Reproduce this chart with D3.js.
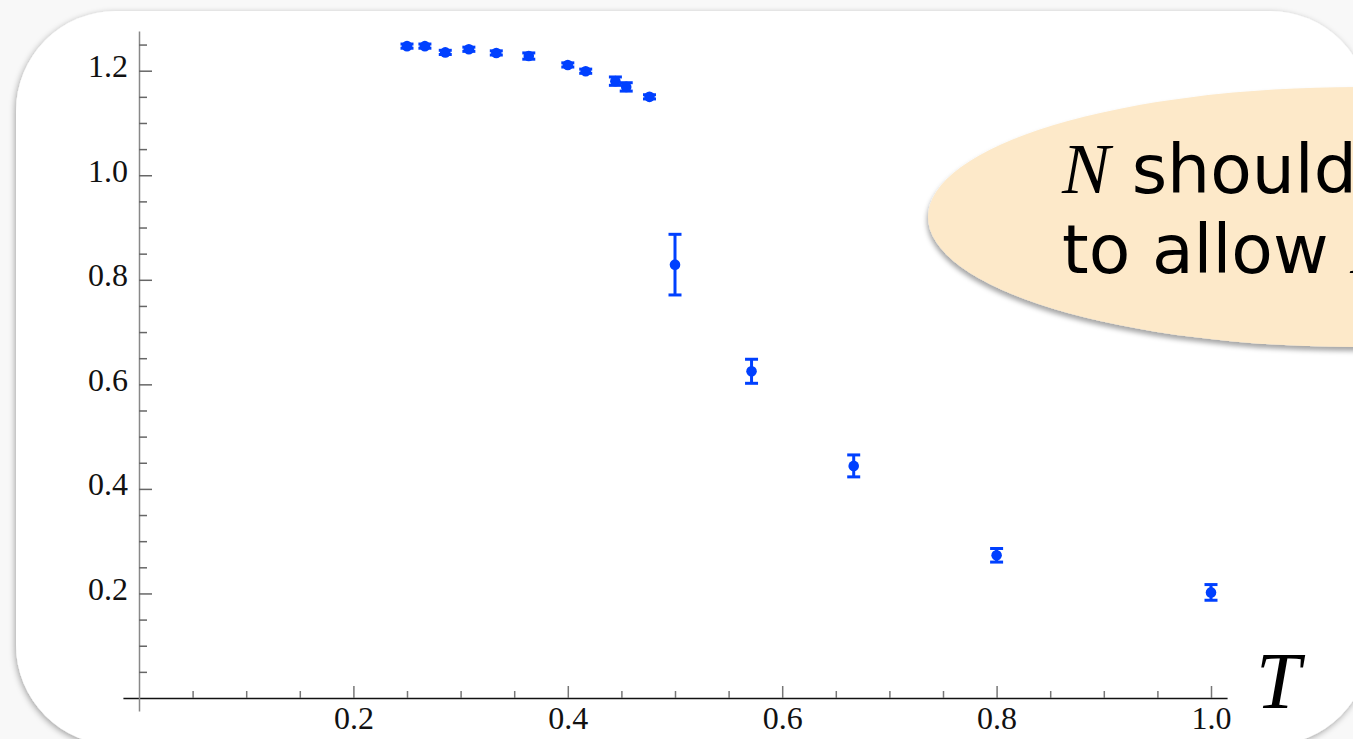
<!DOCTYPE html>
<html>
<head>
<meta charset="utf-8">
<script src="https://cdn.jsdelivr.net/npm/d3@7"></script>
<style>
  html, body { margin: 0; padding: 0; background: #f8f8f8; }
  svg { display: block; }
</style>
</head>
<body>
<svg id="chart" width="1353" height="739"></svg>
<script>
// données
const temps = [0.25, 0.2667, 0.2857, 0.3077, 0.3333, 0.3636, 0.4, 0.4167, 0.4444, 0.4545, 0.4762, 0.5, 0.5714, 0.6667, 0.8, 1.0];
const values = [1.247, 1.247, 1.235, 1.241, 1.234, 1.228, 1.211, 1.199, 1.180, 1.169, 1.150, 0.829, 0.625, 0.444, 0.273, 0.202];
const errors = [0.004, 0.004, 0.004, 0.004, 0.004, 0.006, 0.004, 0.004, 0.008, 0.008, 0.004, 0.058, 0.023, 0.021, 0.013, 0.015];

const xMajor = [0.2, 0.4, 0.6, 0.8, 1.0];
const xMinor = [0.05, 0.1, 0.15, 0.25, 0.3, 0.35, 0.45, 0.5, 0.55, 0.65, 0.7, 0.75, 0.85, 0.9, 0.95];
const yMajor = [0.2, 0.4, 0.6, 0.8, 1.0, 1.2];
const yMinor = [0.05, 0.1, 0.15, 0.25, 0.3, 0.35, 0.45, 0.5, 0.55, 0.65, 0.7, 0.75, 0.85, 0.9, 0.95, 1.05, 1.1, 1.15, 1.25];

const calloutLine1 = ["N", " should"];
const calloutLine2 = ["to allow ", "N"];

const blue = "#0040ff";

const svg = d3.select("#chart");

// ombres
const defs = svg.append("defs");
defs.append("filter").attr("id", "frameShadow")
  .attr("x", "-5%").attr("y", "-5%").attr("width", "110%").attr("height", "110%")
  .append("feDropShadow")
  .attr("dx", -1).attr("dy", 2).attr("stdDeviation", 3)
  .attr("flood-color", "#000").attr("flood-opacity", 0.35);
defs.append("filter").attr("id", "bubbleShadow")
  .attr("x", "-10%").attr("y", "-10%").attr("width", "120%").attr("height", "130%")
  .append("feDropShadow")
  .attr("dx", -1).attr("dy", 4).attr("stdDeviation", 2.5)
  .attr("flood-color", "#000").attr("flood-opacity", 0.35);

// cadre arrondi
svg.append("rect")
  .attr("x", 16).attr("y", 11)
  .attr("width", 1354).attr("height", 734)
  .attr("rx", 100).attr("ry", 100)
  .attr("fill", "#fff")
  .attr("filter", "url(#frameShadow)");

// echelles
const x = d3.scaleLinear().domain([0, 1]).range([139, 1211]);
const y = d3.scaleLinear().domain([0, 1.2]).range([698, 70.7]);

// l'axe depasse un peu le domaine, comme sur l'original
const xAxisScale = x.copy().domain([-0.015, 1.015]).range([x(-0.015), x(1.015)]);
const yAxisScale = y.copy().domain([-0.025, 1.276]).range([y(-0.025), y(1.276)]);

const tickFont = "'Liberation Serif', 'Times New Roman', serif";

// axe x
const gx = svg.append("g").attr("transform", `translate(0, ${y(0)})`);
gx.call(d3.axisBottom(xAxisScale).tickValues(xMinor).tickSizeInner(-7).tickSizeOuter(0).tickFormat(""));
gx.select(".domain").attr("stroke", "#111").attr("stroke-width", 1.5);
gx.selectAll(".tick line").attr("stroke", "#777").attr("stroke-width", 1.5);

const gxMaj = svg.append("g").attr("transform", `translate(0, ${y(0)})`);
gxMaj.call(d3.axisBottom(xAxisScale).tickValues(xMajor).tickSizeInner(-12).tickSizeOuter(0).tickFormat(d3.format(".1f")));
gxMaj.select(".domain").remove();
gxMaj.selectAll(".tick line").attr("stroke", "#777").attr("stroke-width", 1.5);
gxMaj.selectAll(".tick text")
  .attr("y", 31).attr("dy", null)
  .attr("fill", "#111")
  .style("font-family", tickFont)
  .style("font-size", "32px");

// axe y
const gy = svg.append("g").attr("transform", `translate(${x(0)}, 0)`);
gy.call(d3.axisLeft(yAxisScale).tickValues(yMinor).tickSizeInner(-8).tickSizeOuter(0).tickFormat(""));
gy.select(".domain").attr("stroke", "#888").attr("stroke-width", 1.5);
gy.selectAll(".tick line").attr("stroke", "#666").attr("stroke-width", 1.5);

const gyMaj = svg.append("g").attr("transform", `translate(${x(0)}, 0)`);
gyMaj.call(d3.axisLeft(yAxisScale).tickValues(yMajor).tickSizeInner(-13).tickSizeOuter(0).tickFormat(d3.format(".1f")));
gyMaj.select(".domain").remove();
gyMaj.selectAll(".tick line").attr("stroke", "#666").attr("stroke-width", 1.5);
gyMaj.selectAll(".tick text")
  .attr("x", -11).attr("dy", 6)
  .attr("fill", "#111")
  .style("font-family", tickFont)
  .style("font-size", "32px");

// titre de l'axe
svg.append("text")
  .attr("x", 1256).attr("y", 708)
  .style("font-family", tickFont)
  .style("font-style", "italic")
  .style("font-size", "80px")
  .attr("fill", "#000")
  .text("T");

// points et barres d'erreur
const pts = temps.map((t, i) => ({ t: t, v: values[i], e: errors[i] }));
const capW = 6.5;

const bars = svg.append("g").attr("stroke", blue).attr("stroke-width", 3);
bars.selectAll("line.err")
  .data(pts).join("line").attr("class", "err")
  .attr("x1", d => x(d.t)).attr("x2", d => x(d.t))
  .attr("y1", d => y(d.v + d.e)).attr("y2", d => y(d.v - d.e));
bars.selectAll("line.capTop")
  .data(pts).join("line").attr("class", "capTop")
  .attr("x1", d => x(d.t) - capW).attr("x2", d => x(d.t) + capW)
  .attr("y1", d => y(d.v + d.e)).attr("y2", d => y(d.v + d.e));
bars.selectAll("line.capBot")
  .data(pts).join("line").attr("class", "capBot")
  .attr("x1", d => x(d.t) - capW).attr("x2", d => x(d.t) + capW)
  .attr("y1", d => y(d.v - d.e)).attr("y2", d => y(d.v - d.e));

svg.append("g").selectAll("circle")
  .data(pts).join("circle")
  .attr("cx", d => x(d.t)).attr("cy", d => y(d.v))
  .attr("r", 5.3)
  .attr("fill", blue);

// bulle
svg.append("ellipse")
  .attr("cx", 1358).attr("cy", 217)
  .attr("rx", 430).attr("ry", 130)
  .attr("fill", "#fde9c9")
  .attr("filter", "url(#bubbleShadow)");

const lines = [calloutLine1, calloutLine2];
lines.forEach((parts, i) => {
  const t = svg.append("text")
    .attr("x", 1062).attr("y", 193 + i * 80)
    .attr("fill", "#000")
    .style("font-family", "'DejaVu Sans', sans-serif")
    .style("font-size", "68px");
  parts.forEach(p => {
    const s = t.append("tspan").text(p);
    if (p === "N") {
      s.style("font-family", tickFont)
        .style("font-style", "italic")
        .style("font-size", "72px");
    }
  });
});
</script>
</body>
</html>
